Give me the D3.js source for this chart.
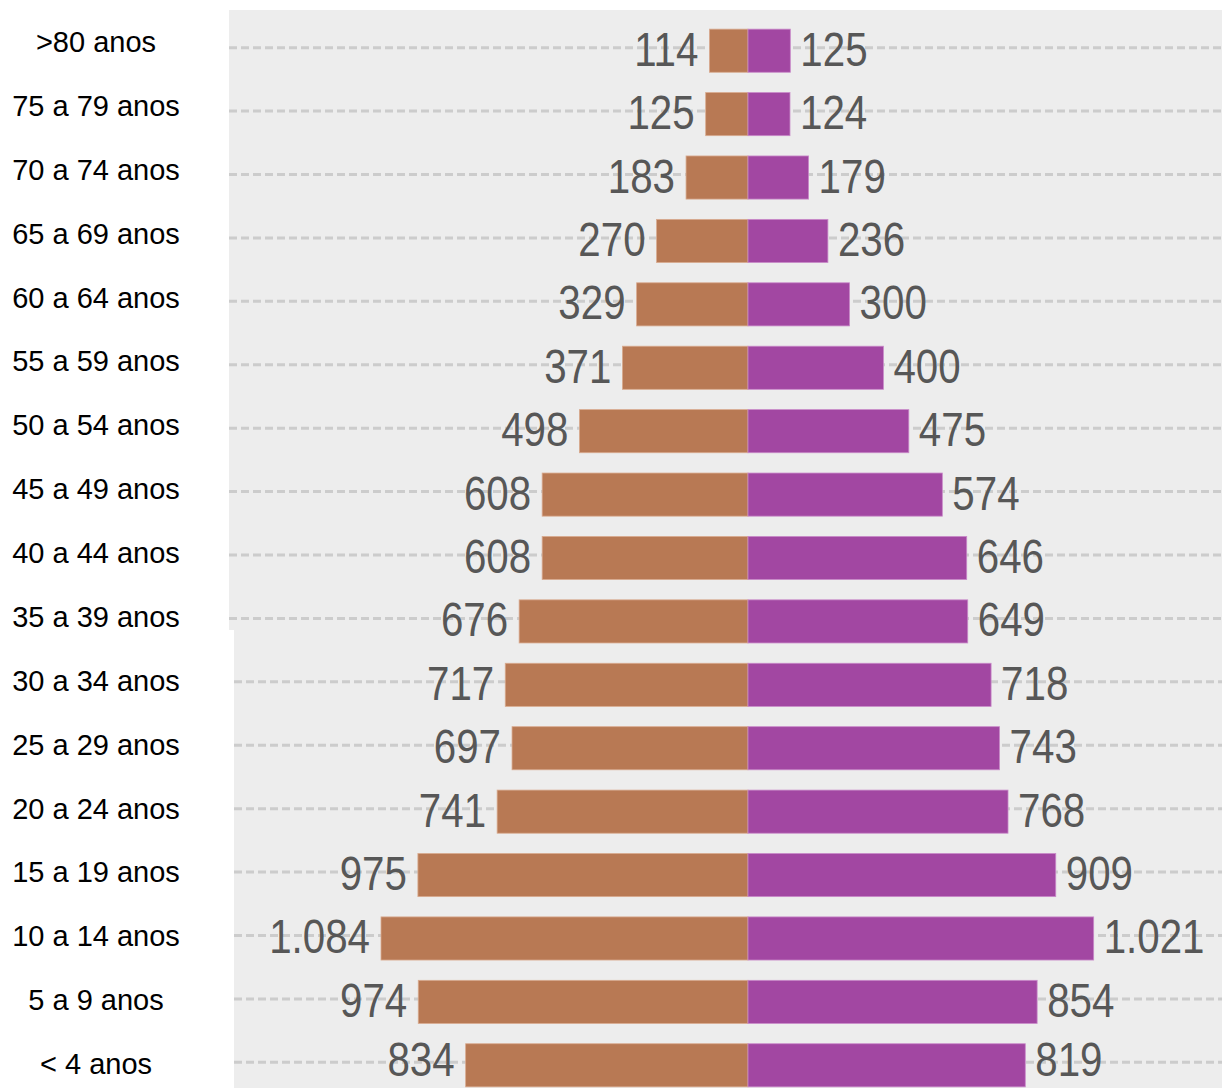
<!DOCTYPE html>
<html>
<head>
<meta charset="utf-8">
<script src="https://cdn.jsdelivr.net/npm/d3@7"></script>
<style>
  html, body { margin: 0; padding: 0; background: #fff; }
  svg { display: block; }
</style>
</head>
<body>
<div id="chart"></div>
<script>
// Age groups, top to bottom
const ageGroups = [">80 anos", "75 a 79 anos", "70 a 74 anos", "65 a 69 anos", "60 a 64 anos",
    "55 a 59 anos", "50 a 54 anos", "45 a 49 anos", "40 a 44 anos", "35 a 39 anos",
    "30 a 34 anos", "25 a 29 anos", "20 a 24 anos", "15 a 19 anos", "10 a 14 anos",
    "5 a 9 anos", "< 4 anos"];
const male = [114, 125, 183, 270, 329, 371, 498, 608, 608, 676, 717, 697, 741, 975, 1084, 974, 834];
const female = [125, 124, 179, 236, 300, 400, 475, 574, 646, 649, 718, 743, 768, 909, 1021, 854, 819];

const W = 1222, H = 1088;
const centerX = 748;
const maleColor = "#b87954", femaleColor = "#a247a2";
const fmt = v => d3.format(",")(v).replace(/,/g, ".");
const narrow = 0.84; // no narrow font installed, squeeze horizontally

const svg = d3.select("#chart").append("svg")
    .attr("width", W)
    .attr("height", H);

// gray panel (two pieces, the lower one sits a bit to the right)
svg.append("rect").attr("x", 229).attr("y", 10).attr("width", W - 229).attr("height", 620).attr("fill", "#ededed");
svg.append("rect").attr("x", 234).attr("y", 630).attr("width", W - 234).attr("height", H - 630).attr("fill", "#ededed");

// Scales
const y = d3.scaleBand().domain(ageGroups).range([19, 1097]).paddingInner(0.32).paddingOuter(0.16);
const yLabel = d3.scalePoint().domain(ageGroups).range([42, 1064]);
const xLen = d3.scaleLinear().domain([0, 1084]).range([0, 367]);

const rows = ageGroups.map((g, i) => ({ group: g, m: male[i], f: female[i], i }));
const mid = d => y(d.group) + y.bandwidth() / 2;
// keep the bottom row's labels inside the picture
const labelY = d => Math.min(mid(d) + 15, H - 12);

// dashed grid lines
svg.append("g").selectAll("line").data(rows).join("line")
    .attr("x1", d => d.i < 10 ? 229 : 234)
    .attr("x2", W)
    .attr("y1", d => mid(d) - 3)
    .attr("y2", d => mid(d) - 3)
    .attr("stroke", "#cccccc")
    .attr("stroke-width", 3)
    .attr("stroke-dasharray", "8 4");

// bars
const bars = svg.append("g");
bars.selectAll("rect.m").data(rows).join("rect")
    .attr("class", "m")
    .attr("x", d => centerX - xLen(d.m))
    .attr("y", d => y(d.group))
    .attr("width", d => xLen(d.m))
    .attr("height", y.bandwidth())
    .attr("fill", maleColor)
    .attr("stroke", "#d9ab90")
    .attr("stroke-width", 0.8);
bars.selectAll("rect.f").data(rows).join("rect")
    .attr("class", "f")
    .attr("x", centerX)
    .attr("y", d => y(d.group))
    .attr("width", d => xLen(d.f))
    .attr("height", y.bandwidth())
    .attr("fill", femaleColor)
    .attr("stroke", "#c98ac9")
    .attr("stroke-width", 0.8);

// value labels
const valFont = "'Liberation Sans Narrow', 'Arial Narrow', 'Liberation Sans', Arial, sans-serif";
svg.append("g").selectAll("text.m").data(rows).join("text")
    .attr("transform", d => `translate(${centerX - xLen(d.m) - 11},${labelY(d)}) scale(${narrow},1)`)
    .attr("text-anchor", "end")
    .attr("font-family", valFont)
    .attr("font-size", 48)
    .attr("fill", "#575757")
    .text(d => fmt(d.m));
svg.append("g").selectAll("text.f").data(rows).join("text")
    .attr("transform", d => `translate(${centerX + xLen(d.f) + 10},${labelY(d)}) scale(${narrow},1)`)
    .attr("text-anchor", "start")
    .attr("font-family", valFont)
    .attr("font-size", 48)
    .attr("fill", "#575757")
    .text(d => fmt(d.f));

// age group labels
svg.append("g").selectAll("text").data(ageGroups).join("text")
    .attr("x", 96)
    .attr("y", d => yLabel(d) + 10)
    .attr("text-anchor", "middle")
    .attr("font-family", "'Liberation Sans', Arial, sans-serif")
    .attr("font-size", 29)
    .attr("fill", "#000")
    .text(d => d);
</script>
</body>
</html>
